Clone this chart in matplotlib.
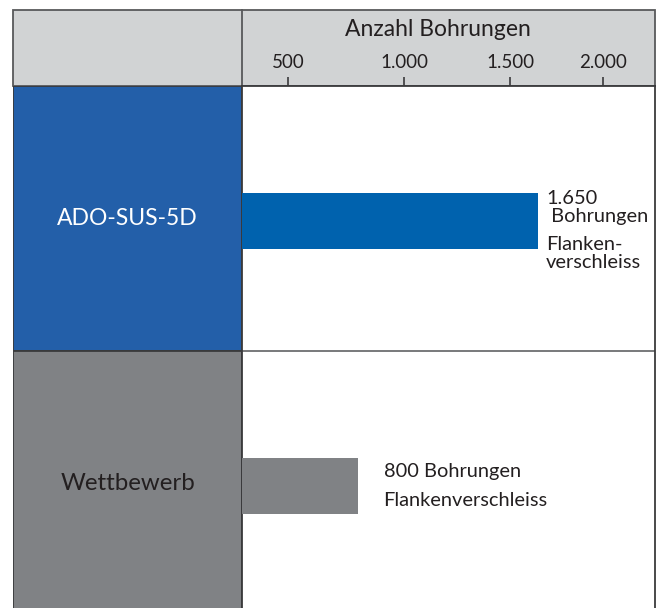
import numpy as np
import matplotlib
matplotlib.use("Agg")
import matplotlib.pyplot as plt
from matplotlib.patches import Rectangle

plt.rcParams['font.family'] = ['Lato', 'DejaVu Sans']

# ---- data ----
categories = ["ADO-SUS-5D", "Wettbewerb"]
values = [1650, 800]
bar_labels_top = ["1.650\n Bohrungen", "800 Bohrungen"]
bar_labels_bottom = ["Flanken-\nverschleiss", "Flankenverschleiss"]
tick_values = [500, 1000, 1500, 2000]
tick_labels = ["500", "1.000", "1.500", "2.000"]
axis_title = "Anzahl Bohrungen"

# ---- style ----
W, H = 658, 608
DPI = 100
cell_colors = ["#235fa9", "#808285"]
bar_colors = ["#0062ae", "#808285"]
cell_text_colors = ["white", "#231f20"]
header_color = "#d1d3d4"
line_color = "#58595b"
text_color = "#231f20"

# piecewise axis mapping of the original graphic (value -> pixel offset)
scale_vals = [0, 500, 1000, 1500, 2000, 2285]
scale_pix = [0, 46, 162, 268, 361, 413]

def fwd(x):
    return np.interp(x, scale_vals, scale_pix)

def inv(p):
    return np.interp(p, scale_pix, scale_vals)

fig = plt.figure(figsize=(W / DPI, H / DPI), dpi=DPI)

def fx(px):
    return px / W

def fy(py):
    return 1 - py / H

row_h = 265.0
panel_top, panel_bot = 86, 608
x_left, x_mid, x_right = 13, 242, 655
ylim = (-0.5 + (panel_bot - panel_top) / row_h, -0.5)

# header
fig.patches.append(Rectangle((fx(x_left), fy(panel_top)), fx(x_right) - fx(x_left),
                             fy(10) - fy(panel_top), transform=fig.transFigure,
                             facecolor=header_color, edgecolor=line_color, lw=1.3, zorder=-5))
fig.lines.append(plt.Line2D([fx(x_mid), fx(x_mid)], [fy(10), fy(panel_top)],
                            transform=fig.transFigure, color=line_color, lw=1.3, zorder=-4))

# left category column
axL = fig.add_axes([fx(x_left), 0, fx(x_mid) - fx(x_left), fy(panel_top)])
ypos = np.arange(len(categories))
axL.barh(ypos, [1] * len(categories), height=1.0, left=0, color=cell_colors,
         edgecolor="#3a3a3c", linewidth=1.3)
axL.set_xlim(0, 1)
axL.set_ylim(*ylim)
cell_fs = [16.5, 17.3]
for i, c in enumerate(categories):
    axL.text(0.5, i + 0.0, c, ha="center", va="center", fontsize=cell_fs[i],
             color=cell_text_colors[i])
axL.set_xticks([])
axL.set_yticks([])
for s in axL.spines.values():
    s.set_visible(False)

# main panel
ax = fig.add_axes([fx(x_mid), 0, fx(x_right) - fx(x_mid), fy(panel_top)])
ax.set_xscale("function", functions=(fwd, inv))
ax.set_xlim(0, 2285)
ax.set_ylim(*ylim)
ax.barh(ypos + 0.01, values, height=0.21, color=bar_colors, zorder=3)
ax.axhline(0.5, color="#6d6e71", lw=1.3)

ax.xaxis.tick_top()
ax.set_xticks(tick_values)
ax.set_xticklabels(tick_labels)
ax.tick_params(axis="x", direction="out", length=6.5, width=1.2, color="#3a3a3c",
               labelsize=13.5, labelcolor=text_color, pad=4)
ax.set_yticks([])
ax.minorticks_off()
for side in ["left", "right", "top"]:
    ax.spines[side].set_color("#3a3a3c")
    ax.spines[side].set_linewidth(1.3)
ax.spines["bottom"].set_visible(False)

# text placement (pixels relative to bar end / bar centre)
label_dx = [8, 26]
top_dy = [11, 12]
bot_dy = [-35, -17]
for i, v in enumerate(values):
    ax.annotate(bar_labels_top[i], xy=(v, i), xytext=(label_dx[i], top_dy[i]),
                textcoords="offset pixels", ha="left", va="center",
                fontsize=14.4, color=text_color, linespacing=1.1)
    ax.annotate(bar_labels_bottom[i], xy=(v, i), xytext=(label_dx[i], bot_dy[i]),
                textcoords="offset pixels", ha="left", va="center",
                fontsize=14.4, color=text_color, linespacing=1.1)

fig.text(fx(438), fy(30), axis_title, ha="center", va="center", fontsize=16.5,
         color=text_color)

fig.savefig("out.png", dpi=DPI)
